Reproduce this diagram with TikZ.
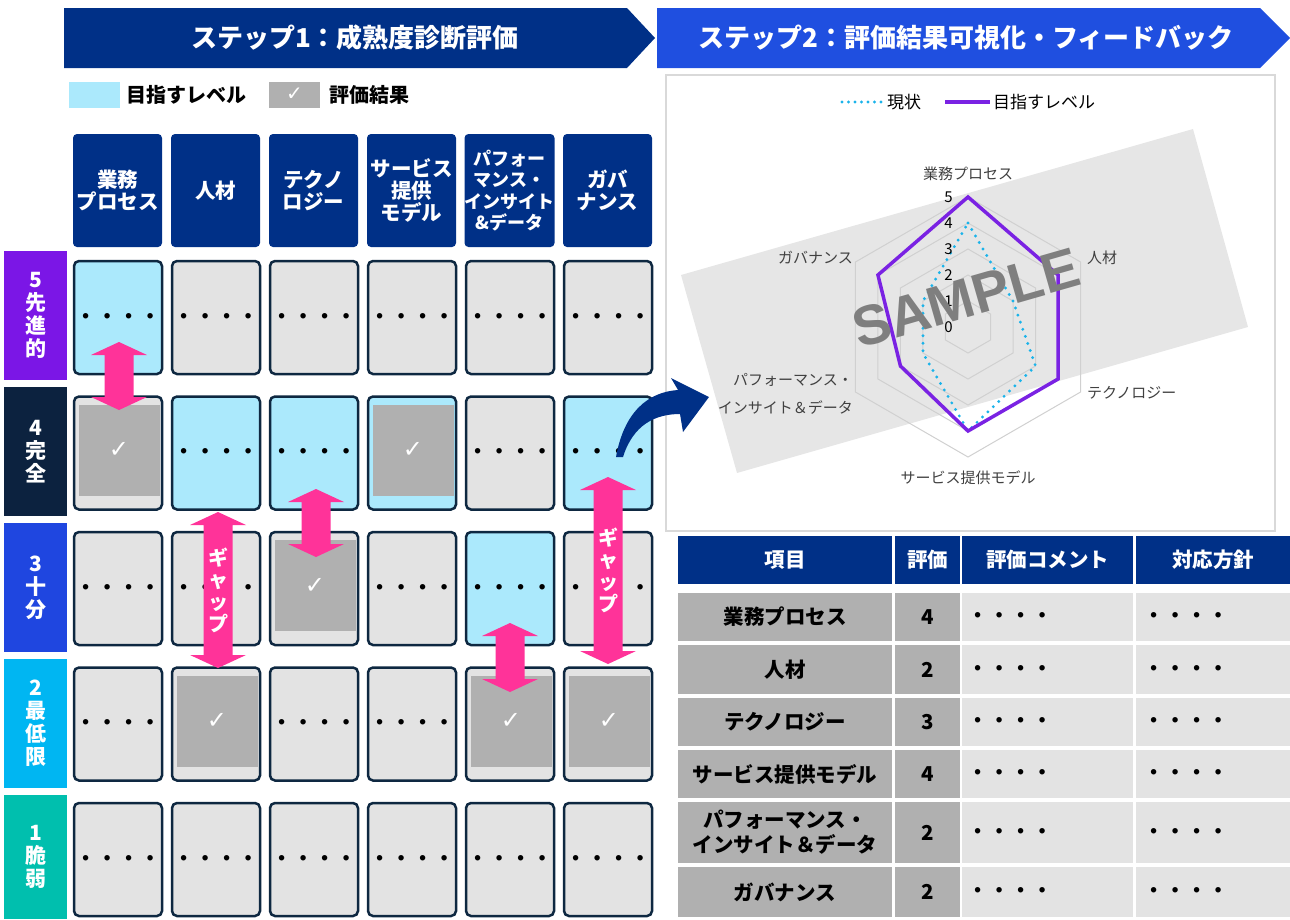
\documentclass[tikz,border=0pt]{standalone}
\usepackage{fontspec}
\setmainfont{Noto Sans CJK JP}
\newfontfamily\symf{DejaVu Sans}
\newfontfamily\smpf{Liberation Sans}
\usetikzlibrary{calc}
\definecolor{navy}{HTML}{003087}
\definecolor{stepblue}{HTML}{1F4FE0}
\definecolor{lvfive}{HTML}{7B16E6}
\definecolor{lvfour}{HTML}{0C223F}
\definecolor{lvthree}{HTML}{1F46E0}
\definecolor{lvtwo}{HTML}{00B6F2}
\definecolor{lvone}{HTML}{00BFAE}
\definecolor{cgray}{HTML}{E3E3E3}
\definecolor{tcyan}{HTML}{ABE9FC}
\definecolor{chkgray}{HTML}{B0B0B0}
\definecolor{cborder}{HTML}{0E2841}
\definecolor{gpink}{HTML}{FF3399}
\definecolor{rpurple}{HTML}{7A22E3}
\definecolor{rcyan}{HTML}{1AB3EA}
\definecolor{gridc}{HTML}{D0D0D0}
\definecolor{bandc}{HTML}{E6E6E6}
\definecolor{smpgray}{HTML}{7F7F7F}
\definecolor{pborder}{HTML}{D9D9D9}
\definecolor{rtext}{HTML}{404040}
\newcommand\fsz[2]{\fontsize{#1}{#2}\selectfont}
\newcommand\fourdots{{\smpf\bfseries\fsz{19}{19}\makebox[21.5pt]{•}\makebox[21.5pt]{•}\makebox[21.5pt]{•}\makebox[21.5pt]{•}}}
\newcommand\chk{{\symf\fsz{24}{24}\color{white}✓}}
\newcommand\gaparrow[3]{%
  \fill[gpink] (#1-14.5,#2+13) -- (#1-28,#2+13) -- (#1,#2) -- (#1+28,#2+13) -- (#1+14.5,#2+13)
   -- (#1+14.5,#3-13) -- (#1+28,#3-13) -- (#1,#3) -- (#1-28,#3-13) -- (#1-14.5,#3-13) -- cycle;}
\expandafter\def\csname cf51\endcsname{tcyan}
\expandafter\def\csname cf42\endcsname{tcyan}
\expandafter\def\csname cf43\endcsname{tcyan}
\expandafter\def\csname cf44\endcsname{tcyan}
\expandafter\def\csname cf46\endcsname{tcyan}
\expandafter\def\csname cf35\endcsname{tcyan}
\expandafter\def\csname ck41\endcsname{}
\expandafter\def\csname ck44\endcsname{}
\expandafter\def\csname ck33\endcsname{}
\expandafter\def\csname ck22\endcsname{}
\expandafter\def\csname ck25\endcsname{}
\expandafter\def\csname ck26\endcsname{}
\tikzset{
  bantext/.style={text=white, font={\bfseries\fsz{26}{30}}, inner sep=0},
  hdr/.style={fill=navy, rounded corners=4, minimum width=89, minimum height=113, text=white, font={\bfseries\fsz{20.5}{22}}, align=center, inner sep=0},
  lvl/.style={minimum width=63, minimum height=129, text=white, font={\bfseries\fsz{21}{23}}, align=center, inner sep=0},
  cell/.style={draw=cborder, line width=2.5, rounded corners=5, minimum width=88, minimum height=113, inner sep=0},
  chkbox/.style={fill=chkgray, minimum width=81, minimum height=91, inner sep=0},
  gaptxt/.style={text=white, font={\bfseries\fsz{20}{22}}, align=center, inner sep=0},
  rlabel/.style={text=rtext, font={\fsz{15}{28}}, inner sep=0},
  tabhdr/.style={fill=navy, text=white, font={\bfseries\fsz{20.5}{25}}, inner sep=0, align=center},
  tabcell/.style={font={\bfseries\fsz{20.5}{25}}, inner sep=0, align=center},
  legtext/.style={font={\bfseries\fsz{20}{20}}, inner sep=0, anchor=west}
}
\begin{document}
\begin{tikzpicture}[x=1pt,y=-1pt]
\useasboundingbox (0,0) rectangle (1290,919);
% banners
\fill[navy] (64,8) -- (627,8) -- (655,38) -- (627,68) -- (64,68) -- cycle;
\node[bantext] (step1) at (355,38) {ステップ1：成熟度診断評価};
\fill[stepblue] (657,8) -- (1260,8) -- (1290,38) -- (1260,68) -- (657,68) -- cycle;
\node[bantext] (step2) at (966,38) {ステップ2：評価結果可視化・フィードバック};
% legend
\node[fill=tcyan, minimum width=51, minimum height=26, inner sep=0] (lgcyan) at (94.5,94.5) {};
\node[legtext] (lgt1) at (126,95) {目指すレベル};
\node[fill=chkgray, minimum width=51, minimum height=26, inner sep=0] (lggray) at (294.5,94.5) {{\symf\fsz{20}{20}\color{white}✓}};
\node[legtext] (lgt2) at (329,95) {評価結果};
% column headers
\node[hdr] (h1) at (117.5,190.5) {業務\\プロセス};
\node[hdr] (h2) at (215.5,190.5) {人材};
\node[hdr] (h3) at (313.5,190.5) {テクノ\\ロジー};
\node[hdr] (h4) at (411.5,190.5) {サービス\\提供\\モデル};
\node[hdr, font={\bfseries\fsz{18}{21.5}}] (h5) at (509.5,190.5) {パフォー\\マンス・\\インサイト\\\&データ};
\node[hdr] (h6) at (607.5,190.5) {ガバ\\ナンス};
% level labels
\node[lvl, fill=lvfive] (lv5) at (35.5,315.5) {5\\先\\進\\的};
\node[lvl, fill=lvfour] (lv4) at (35.5,451.5) {4\\完\\全};
\node[lvl, fill=lvthree] (lv3) at (35.5,587.5) {3\\十\\分};
\node[lvl, fill=lvtwo] (lv2) at (35.5,723.5) {2\\最\\低\\限};
\node[lvl, fill=lvone, minimum height=124] (lv1) at (35.5,857) {1\\脆\\弱};
% cells
\foreach \L in {1,...,5}{
  \foreach \c in {1,...,6}{
    \ifcsname cf\L\c\endcsname \edef\cfill{\csname cf\L\c\endcsname}\else\def\cfill{cgray}\fi
    \ifcsname ck\L\c\endcsname
      \node[cell, fill=\cfill] (c\L\c) at ({118+98*(\c-1)},{317.5+135.5*(5-\L)}) {};
    \else
      \node[cell, fill=\cfill] (c\L\c) at ({118+98*(\c-1)},{317.5+135.5*(5-\L)}) {\fourdots};
    \fi
  }
}
% check results
\foreach \L/\c in {4/1,4/4,3/3,2/2,2/5,2/6}{
  \node[chkbox] (k\L\c) at ($(c\L\c.center)+(1,-3)$) {\chk};
}
% gap arrows
\gaparrow{119}{342}{410}
\gaparrow{218}{512}{668}
\gaparrow{316}{489}{557}
\gaparrow{510}{623}{692}
\gaparrow{608}{477}{664}
\node[gaptxt] (gap1) at (218,590) {ギ\\ャ\\ッ\\プ};
\node[gaptxt] (gap2) at (608,570) {ギ\\ャ\\ッ\\プ};
% radar panel
\draw[pborder, line width=1.5] (666,75) rectangle (1275,531);
\fill[bandc] (681,275) -- (1193,129) -- (1248,327) -- (737,473) -- cycle;
\begin{scope}[shift={(968,327)}, x=1pt, y=1pt]
  \foreach \k in {1,...,5}{
    \draw[gridc, line width=1] (90:\k*26) -- (30:\k*26) -- (-30:\k*26) -- (-90:\k*26) -- (210:\k*26) -- (150:\k*26) -- cycle;
  }
  \draw[rcyan, line width=3.2, line cap=round, dash pattern=on 0pt off 7.5pt]
    (90:104) -- (30:52) -- (-30:78) -- (-90:104) -- (210:52) -- (150:52) -- cycle;
  \draw[rpurple, line width=3.5, line join=miter]
    (90:130) -- (30:104) -- (-30:104) -- (-90:104) -- (210:78) -- (150:104) -- cycle;
\end{scope}
\foreach \k in {0,...,5}{
  \node[anchor=east, font={\fsz{15}{15}}, inner sep=0] (n\k) at (953,{327-26*\k}) {\k};
}
\node[rlabel] (r1) at (968,174) {業務プロセス};
\node[rlabel, anchor=west] (r2) at (1087,258) {人材};
\node[rlabel, anchor=west] (r3) at (1087,393) {テクノロジー};
\node[rlabel] (r4) at (968,478) {サービス提供モデル};
\node[rlabel, anchor=east, align=right] (r5) at (853,394) {パフォーマンス・\\インサイト＆データ};
\node[rlabel, anchor=east] (r6) at (853,258) {ガバナンス};
\node[rotate=16, text=smpgray, font={\smpf\bfseries\fsz{56}{56}}, inner sep=0] (smp) at (966,298) {SAMPLE};
% radar legend
\coordinate (la) at (842,102); \coordinate (lb) at (884,102);
\draw[rcyan, line width=3.2, line cap=round, dash pattern=on 0pt off 6.5pt] (la) -- (lb);
\node[anchor=west, font={\fsz{17}{17}}, inner sep=0] (lg1) at (887,102) {現状};
\coordinate (lc) at (945,102); \coordinate (ld) at (990,102);
\draw[rpurple, line width=3.5] (lc) -- (ld);
\node[anchor=west, font={\fsz{17}{17}}, inner sep=0] (lg2) at (993,102) {目指すレベル};
% table header
\node[tabhdr, minimum width=214, minimum height=48] (th1) at (785,560) {項目};
\node[tabhdr, minimum width=65, minimum height=48] (th2) at (927.5,560) {評価};
\node[tabhdr, minimum width=171, minimum height=48] (th3) at (1047.5,560) {評価コメント};
\node[tabhdr, minimum width=154, minimum height=48] (th4) at (1213,560) {対応方針};
\foreach \i/\ya/\yb/\nm/\vl in {1/593/641/{業務プロセス}/4, 2/645/694/{人材}/2, 3/698/746/{テクノロジー}/3, 4/750/798/{サービス提供モデル}/4, 5/802/863/{パフォーマンス・\\インサイト＆データ}/2, 6/867/917/{ガバナンス}/2}{
  \node[tabcell, fill=chkgray, minimum width=214, minimum height={\yb-\ya}] (ta\i) at (785,{(\ya+\yb)/2}) {\nm};
  \node[tabcell, fill=chkgray, minimum width=65, minimum height={\yb-\ya}] (tb\i) at (927.5,{(\ya+\yb)/2}) {\vl};
  \node[tabcell, fill=cgray, minimum width=171, minimum height={\yb-\ya}] (tc\i) at (1047.5,{(\ya+\yb)/2}) {};
  \node[tabcell, fill=cgray, minimum width=154, minimum height={\yb-\ya}] (td\i) at (1213,{(\ya+\yb)/2}) {};
  \node[anchor=west, inner sep=0] (tdc\i) at ($(tc\i.west)+(5,0)$) {\fourdots};
  \node[anchor=west, inner sep=0] (tdd\i) at ($(td\i.west)+(7,0)$) {\fourdots};
}
% curved arrow
\fill[navy] (616,457) .. controls (624,412) and (648,392) .. (678,390) -- (671,378) -- (709,397) -- (683,432) -- (680,414) .. controls (655,414) and (633,425) .. (623,457) -- cycle;
\end{tikzpicture}
\end{document}
